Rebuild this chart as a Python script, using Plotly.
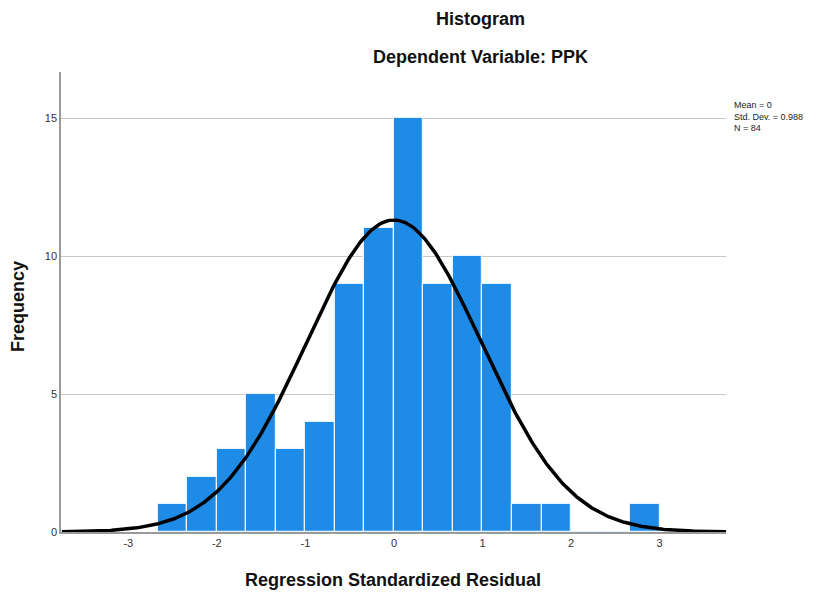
import numpy as np
import plotly.graph_objects as go

# Histogram data
bin_start = -8 / 3
bin_width = 1 / 3
counts = [1, 2, 3, 5, 3, 4, 9, 11, 15, 9, 10, 9, 1, 1, 0, 0, 1]
stat_mean = 0.0
stat_sd = 0.988
stat_n = 84
x_ticks = [-3, -2, -1, 0, 1, 2, 3]
y_ticks = [0, 5, 10, 15]

centers = [bin_start + bin_width * (i + 0.5) for i in range(len(counts))]

# fitted normal curve scaled to counts
xs = np.linspace(-3.75, 3.75, 400)
ys = stat_n * bin_width / (stat_sd * np.sqrt(2 * np.pi)) * np.exp(-0.5 * ((xs - stat_mean) / stat_sd) ** 2)

W, H = 830, 596
DX, DY = 7, 8  # page offset of the figure inside the browser window
L, T = 60 - DX, 72 - DY
pw, ph = 665, 460
R, B = W - L - pw, H - T - ph
FONT = "Liberation Sans, Arial, sans-serif"


def px(x):
    return (x - DX - L) / pw


def py(y):
    return (T + ph - (y - DY)) / ph


fig = go.Figure()
fig.add_trace(go.Bar(
    x=centers, y=counts, width=bin_width,
    marker=dict(color="#1E8BE6", line=dict(color="#E8F4FF", width=1.2)),
    showlegend=False,
))
fig.add_trace(go.Scatter(
    x=xs, y=ys, mode="lines", line=dict(color="black", width=3.5),
    showlegend=False,
))

fig.update_layout(
    width=W, height=H,
    margin=dict(l=L, r=R, t=T, b=B),
    plot_bgcolor="white", paper_bgcolor="white",
    font=dict(family=FONT, color="#222"),
    bargap=0,
    xaxis=dict(
        range=[-3.76, 3.75], tickvals=x_ticks, ticktext=[str(v) for v in x_ticks],
        showgrid=False, zeroline=False, showline=True, linecolor="#9a9a9a", linewidth=1.5,
        ticks="", tickfont=dict(size=11, color="#333"), automargin=False,
    ),
    yaxis=dict(
        range=[0, 16.67], tickvals=y_ticks, ticktext=[str(v) for v in y_ticks],
        showgrid=True, gridcolor="#c8c8c8", gridwidth=1.2, zeroline=False,
        showline=True, linecolor="#9a9a9a", linewidth=1.5,
        ticks="", tickfont=dict(size=11, color="#333"), automargin=False,
    ),
    annotations=[
        dict(text="<b>Histogram</b>", x=px(479), y=py(19), xref="paper", yref="paper",
             xanchor="center", yanchor="middle", showarrow=False, font=dict(size=18, color="#111")),
        dict(text="<b>Dependent Variable: PPK</b>", x=px(479), y=py(57), xref="paper", yref="paper",
             xanchor="center", yanchor="middle", showarrow=False, font=dict(size=18, color="#111")),
        dict(text="Mean = 0<br>Std. Dev. = 0.988<br>N = 84", x=px(731), y=py(98),
             xref="paper", yref="paper", xanchor="left", yanchor="top", align="left",
             showarrow=False, font=dict(size=9, color="#222")),
        dict(text="<b>Regression Standardized Residual</b>", x=px(392), y=py(580), xref="paper", yref="paper",
             xanchor="center", yanchor="middle", showarrow=False, font=dict(size=18, color="#111")),
        dict(text="<b>Frequency</b>", x=px(17), y=py(307), xref="paper", yref="paper", textangle=-90,
             xanchor="center", yanchor="middle", showarrow=False, font=dict(size=18, color="#111")),
    ],
)

fig.write_html("out.html")
